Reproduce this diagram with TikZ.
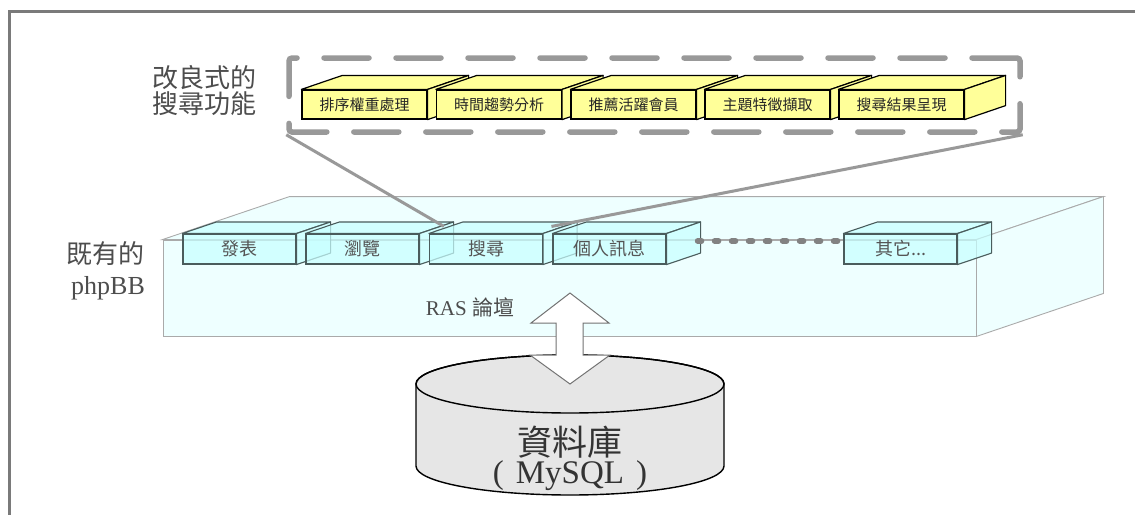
\documentclass[tikz,border=0pt]{standalone}
\usepackage{fontspec}
\setmainfont{Liberation Serif}
\newfontfamily\cjk{Noto Sans CJK TC}
\definecolor{yfill}{HTML}{FFFF99}
\definecolor{cfill}{HTML}{C8FFFF}
\definecolor{cedge}{HTML}{4A5C5C}
\definecolor{ctext}{HTML}{555555}
\definecolor{slabfill}{HTML}{EEFFFF}
\definecolor{slabedge}{HTML}{AAAAAA}
\definecolor{framegray}{HTML}{7A7A7A}
\definecolor{dashgray}{HTML}{999999}
\definecolor{dbfill}{HTML}{E6E6E6}
\definecolor{labgray}{HTML}{4D4D4D}
\begin{document}
\begin{tikzpicture}[x=1pt,y=-1pt,
  ybox/.style={draw=black, line width=1.2pt, fill=yfill, minimum width=125pt, minimum height=29pt, inner sep=0pt, font=\cjk\fontsize{15}{15}\selectfont, text=black!85},
  yface/.style={draw=black, line width=1.2pt, fill=yfill, line join=round},
  cbox/.style={draw=cedge, line width=1.1pt, fill=cfill, fill opacity=0.72, text opacity=1, minimum width=113pt, minimum height=30pt, inner sep=0pt, font=\cjk\fontsize{18}{18}\selectfont, text=ctext},
  cface/.style={draw=cedge, line width=1.1pt, fill=cfill, fill opacity=0.72, line join=round},
  slabstyle/.style={draw=slabedge, line width=0.9pt, fill=slabfill},
  grpstyle/.style={draw=dashgray, line width=5.5pt, dash pattern=on 45pt off 27pt, line cap=round, rounded corners=3pt, minimum width=731pt, minimum height=74pt, inner sep=0pt},
  linkline/.style={draw=dashgray, line width=3pt},
  dotline/.style={draw=dashgray!85!black, line width=5.5pt, dash pattern=on 4pt off 13pt, line cap=round},
  dbstyle/.style={draw=black, line width=1.4pt, fill=dbfill},
  arrowstyle/.style={draw=black!55, line width=1pt, fill=white, line join=miter},
  lab/.style={text=labgray, inner sep=0pt}
]
\useasboundingbox (0,0) rectangle (1135,514);
\fill[white] (0,0) rectangle (1135,514);
% outer frame
\draw[framegray, line width=2.5pt] (9.5,520) -- (9.5,11.5) -- (1140,11.5);

% improved search group
\node[grpstyle] (grp) at (654.5,95) {};
\foreach \i/\x/\t in {1/364.5/排序權重處理, 2/499/時間趨勢分析, 3/633.5/推薦活躍會員, 4/767.5/主題特徵擷取, 5/901.5/搜尋結果呈現}{
  \node[ybox] (y\i) at (\x,104.5) {\t};
  \filldraw[yface] (y\i.north west) -- ([shift={(41pt,14pt)}]y\i.north west) -- ([shift={(41pt,14pt)}]y\i.north east) -- (y\i.north east) -- cycle;
  \filldraw[yface] (y\i.north east) -- ([shift={(41pt,14pt)}]y\i.north east) -- ([shift={(41pt,14pt)}]y\i.south east) -- (y\i.south east) -- cycle;
}
\node[lab, align=center, font=\cjk\fontsize{26}{26}\selectfont] (lblnew) at (204,90.5) {改良式的\\搜尋功能};

% phpBB slab
\node[slabstyle, minimum width=813pt, minimum height=96pt, inner sep=0pt] (slab) at (569.5,288) {};
\filldraw[slabstyle] (slab.north west) -- ([shift={(127pt,43pt)}]slab.north west) -- ([shift={(127pt,43pt)}]slab.north east) -- (slab.north east) -- cycle;
\filldraw[slabstyle] (slab.north east) -- ([shift={(127pt,43pt)}]slab.north east) -- ([shift={(127pt,43pt)}]slab.south east) -- (slab.south east) -- cycle;

\foreach \i/\x/\t in {1/239.5/發表, 2/362.5/瀏覽, 3/486/搜尋, 4/609.5/個人訊息}{
  \node[cbox] (c\i) at (\x,249) {\t};
  \filldraw[cface] (c\i.north west) -- ([shift={(34pt,11.5pt)}]c\i.north west) -- ([shift={(34pt,11.5pt)}]c\i.north east) -- (c\i.north east) -- cycle;
  \filldraw[cface] (c\i.north east) -- ([shift={(34pt,11.5pt)}]c\i.north east) -- ([shift={(34pt,11.5pt)}]c\i.south east) -- (c\i.south east) -- cycle;
}
\node[cbox] (c5) at (900.5,249) {其它...};
\filldraw[cface] (c5.north west) -- ([shift={(34pt,11.5pt)}]c5.north west) -- ([shift={(34pt,11.5pt)}]c5.north east) -- (c5.north east) -- cycle;
\filldraw[cface] (c5.north east) -- ([shift={(34pt,11.5pt)}]c5.north east) -- ([shift={(34pt,11.5pt)}]c5.south east) -- (c5.south east) -- cycle;

\coordinate (dotA) at ([shift={(31pt,8pt)}]c4.east);
\coordinate (dotB) at ([shift={(0pt,8pt)}]c5.west);
\draw[dotline] (dotA) -- (dotB);

\node[lab, font=\cjk\fontsize{26}{26}\selectfont] (lblold) at (105,254) {既有的};
\node[lab, font=\fontsize{26}{26}\selectfont] (lblphp) at (108,288) {phpBB};
\node[lab, text=black!70] (ras) at (470,307) {\fontsize{21}{21}\selectfont RAS {\cjk 論壇}};

% zoom lines
\coordinate (zA) at ([shift={(15pt,7pt)}]c3.north west);
\coordinate (zB) at ([shift={(-1pt,7pt)}]c4.north west);
\draw[linkline] (grp.south west) -- (zA);
\draw[linkline] (grp.south east) -- (zB);

% database cylinder
\filldraw[dbstyle] (416,384) -- (416,466) arc[start angle=180, end angle=360, x radius=154pt, y radius=29pt] -- (724,384) arc[start angle=0, end angle=180, x radius=154pt, y radius=29pt] -- cycle;
\draw[dbstyle, fill=none] (570,384) ellipse [x radius=154pt, y radius=29pt];
\node[lab, text=black!80, font=\cjk\fontsize{35}{35}\selectfont] (db) at (570,442) {資料庫};
\node[lab, text=black!80, font=\fontsize{33}{33}\selectfont] (dbsub) at (570,476) {(\hspace{12pt}MySQL\hspace{12pt})};

% double arrow
\filldraw[arrowstyle] (570,293) -- (609,323) -- (583,323) -- (583,355) -- (610,355) -- (570,384) -- (530,355) -- (556,355) -- (556,323) -- (531,323) -- cycle;
\end{tikzpicture}
\end{document}
